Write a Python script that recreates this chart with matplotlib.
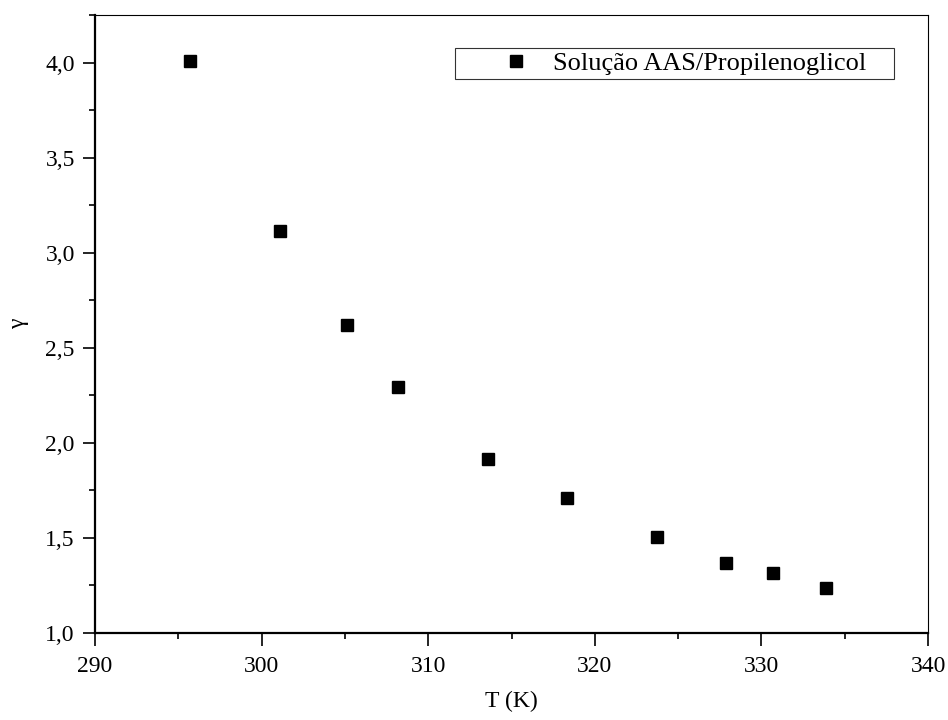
import matplotlib
matplotlib.use("Agg")
from matplotlib import pyplot as plt
from matplotlib.ticker import MultipleLocator, FuncFormatter

plt.rcParams['font.family'] = ['Liberation Serif', 'DejaVu Serif']

# dados
temperatura = [295.7, 301.1, 305.1, 308.2, 313.6, 318.3, 323.7, 327.9, 330.7, 333.9]
gama = [4.01, 3.115, 2.62, 2.295, 1.915, 1.71, 1.505, 1.368, 1.318, 1.237]
rotulo = "Solução AAS/Propilenoglicol"


def virgula(v, pos):
    return f"{v:.1f}".replace(".", ",")


fig = plt.figure(figsize=(9.48, 7.2), dpi=100)
ax = fig.add_axes([0.1002, 0.1208, 0.8788, 0.8584])

ax.plot(temperatura, gama, linestyle='none', marker='s', markersize=8,
        color='black', label=rotulo)

ax.set_xlim(290, 340)
ax.set_ylim(1.0, 4.25)
ax.xaxis.set_major_locator(MultipleLocator(10))
ax.xaxis.set_minor_locator(MultipleLocator(5))
ax.yaxis.set_major_locator(MultipleLocator(0.5))
ax.yaxis.set_minor_locator(MultipleLocator(0.25))
ax.yaxis.set_major_formatter(FuncFormatter(virgula))

ax.tick_params(which='major', direction='out', length=9, width=1.2, labelsize=17)
ax.tick_params(which='minor', direction='out', length=4.5, width=1.2)
ax.tick_params(axis='x', which='major', pad=7.5)
ax.tick_params(axis='y', which='major', pad=5.5)
ax.tick_params(top=False, right=False, which='both')

ax.spines['left'].set_linewidth(1.6)
ax.spines['bottom'].set_linewidth(1.6)
ax.spines['top'].set_linewidth(0.8)
ax.spines['right'].set_linewidth(0.8)

ax.set_xlabel("T (K)", fontsize=17, labelpad=10)
ax.set_ylabel("γ", fontsize=17, labelpad=12)

leg = ax.legend(loc='upper left', bbox_to_anchor=(0.4322, 0.947, 0.527, 0.0),
                mode='expand', borderaxespad=0, fontsize=19, fancybox=False,
                frameon=True, borderpad=0.15, handlelength=4.3,
                handletextpad=-0.74, numpoints=1)
leg.get_frame().set_edgecolor('black')
leg.get_frame().set_linewidth(0.8)

fig.savefig("out.png", dpi=100)
